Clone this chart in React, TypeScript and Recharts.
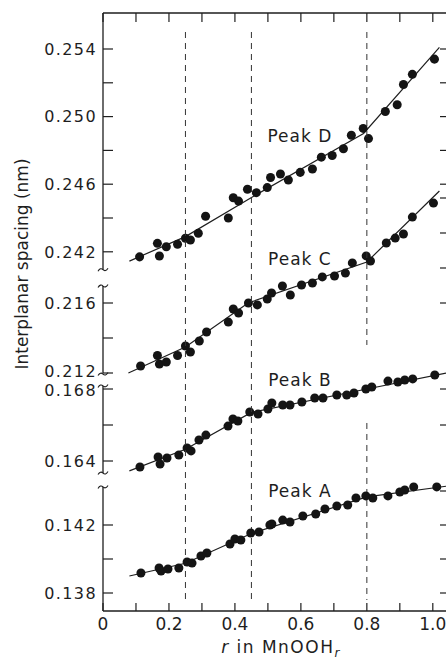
import { ComposedChart, Scatter, Line, XAxis, YAxis, ReferenceLine, ReferenceDot } from 'recharts';

// r in MnOOHr vs interplanar spacing (nm)
const PEAK_D = [
    [0.111, 0.2417], [0.165, 0.2425], [0.171, 0.24175], [0.192, 0.2423], [0.226, 0.24245],
    [0.25, 0.2428], [0.265, 0.2427], [0.289, 0.2431], [0.311, 0.2441], [0.38, 0.244],
    [0.395, 0.2452], [0.411, 0.245], [0.438, 0.2457], [0.465, 0.2455], [0.498, 0.2458],
    [0.508, 0.2464], [0.538, 0.2466], [0.562, 0.24625], [0.598, 0.2467], [0.635, 0.2469],
    [0.662, 0.2476], [0.695, 0.2477], [0.729, 0.2481], [0.753, 0.2489], [0.789, 0.2493],
    [0.805, 0.2487], [0.856, 0.2503], [0.892, 0.2507], [0.911, 0.2519], [0.938, 0.2525],
    [1.005, 0.2534],
];
const PEAK_C = [
    [0.114, 0.2124], [0.165, 0.213], [0.171, 0.21251], [0.192, 0.21263], [0.226, 0.213],
    [0.25, 0.21354], [0.265, 0.2132], [0.292, 0.21383], [0.314, 0.21434], [0.38, 0.21491],
    [0.395, 0.21566], [0.411, 0.21543], [0.441, 0.216], [0.468, 0.21589], [0.498, 0.21623],
    [0.511, 0.21657], [0.544, 0.21697], [0.568, 0.21646], [0.602, 0.21703], [0.635, 0.21714],
    [0.665, 0.21749], [0.702, 0.21754], [0.735, 0.21771], [0.756, 0.21829], [0.798, 0.21869],
    [0.811, 0.2184], [0.859, 0.21943], [0.886, 0.21971], [0.911, 0.21994], [0.938, 0.22091],
    [1.002, 0.22171],
];
const PEAK_B = [
    [0.112, 0.16367], [0.167, 0.16422], [0.173, 0.16383], [0.194, 0.16417], [0.23, 0.16433],
    [0.255, 0.16472], [0.267, 0.16456], [0.291, 0.16517], [0.312, 0.16544], [0.379, 0.16594],
    [0.394, 0.16633], [0.409, 0.16622], [0.445, 0.16672], [0.47, 0.16661], [0.5, 0.16689],
    [0.512, 0.16722], [0.545, 0.16711], [0.567, 0.16711], [0.603, 0.16728], [0.642, 0.1675],
    [0.667, 0.1675], [0.709, 0.16767], [0.739, 0.16767], [0.761, 0.16778], [0.797, 0.168],
    [0.815, 0.16811], [0.864, 0.16844], [0.894, 0.16839], [0.915, 0.1685], [0.939, 0.16856],
    [1.006, 0.16878],
];
const PEAK_A = [
    [0.115, 0.13918], [0.17, 0.13947], [0.176, 0.13929], [0.197, 0.13941], [0.23, 0.13947],
    [0.255, 0.13982], [0.27, 0.13976], [0.297, 0.14018], [0.315, 0.14035], [0.385, 0.14088],
    [0.4, 0.14118], [0.418, 0.14112], [0.448, 0.14153], [0.473, 0.14159], [0.506, 0.142],
    [0.512, 0.14206], [0.545, 0.14229], [0.567, 0.14218], [0.606, 0.14253], [0.645, 0.14265],
    [0.673, 0.14294], [0.709, 0.14312], [0.742, 0.14318], [0.767, 0.14359], [0.797, 0.14371],
    [0.818, 0.14359], [0.864, 0.14371], [0.9, 0.14394], [0.915, 0.14406], [0.942, 0.14424],
    [1.012, 0.14424],
];

// piecewise fitted lines
const FIT_D = [[0.08, 0.24145], [0.25, 0.2429], [0.44, 0.2451], [0.79, 0.249], [1.02, 0.2541]];
const FIT_C = [[0.077, 0.212], [0.25, 0.21349], [0.44, 0.216], [0.8, 0.21834], [1.02, 0.2224]];
const FIT_B = [[0.08, 0.16345], [0.25, 0.16465], [0.45, 0.1667], [0.8, 0.168], [1.04, 0.16888]];
const FIT_A = [[0.08, 0.139], [0.25, 0.13975], [0.45, 0.1415], [0.8, 0.14365], [1.04, 0.14428]];

const X_TICKS = [0, 0.1, 0.2, 0.3, 0.4, 0.5, 0.6, 0.7, 0.8, 0.9, 1.0];
const DASH_R = [0.25, 0.45, 0.8];

const D_TICKS = [0.242, 0.244, 0.246, 0.248, 0.25, 0.252, 0.254];
const D_LABELS = [0.242, 0.246, 0.25, 0.254];
const C_TICKS = [0.212, 0.214, 0.216];
const C_LABELS = [0.212, 0.216];
const B_TICKS = [0.164, 0.166, 0.168];
const B_LABELS = [0.164, 0.168];
const A_TICKS = [0.138, 0.14, 0.142];
const A_LABELS = [0.138, 0.142];

const D_RIGHT = [0.246, 0.248, 0.25, 0.252, 0.254];
const C_RIGHT = [0.216, 0.218, 0.22, 0.222];
const B_RIGHT = [0.166, 0.168];
const A_RIGHT = [0.138, 0.14, 0.142, 0.144];

const W = 447;
const H = 660;
// axes get width/height 1 (0 would not render), so plot area is x 103..446, y 13..611
const MARGIN = { top: 12, right: 0, bottom: 19, left: 102 };
const X_DOMAIN = [0, 1.04];
const INK = '#1e1e1e';
const FONT = '"DejaVu Sans", sans-serif';
const AXIS = { stroke: INK, strokeWidth: 1.3 };

const rows = (pts: number[][]) => pts.map(([r, d]) => ({ r, d }));

// labels of the two panels that meet at the break sit slightly apart, as in the figure
const nudge = (v: number) => (v === 0.212 ? -2 : v === 0.168 ? 1.5 : 0);

const leftTick = (labels: number[]) => (p: any) => (
    <g>
        <line x1={p.x} x2={p.x + 10} y1={p.y} y2={p.y} stroke={INK} strokeWidth={1.2} />
        {labels.includes(p.payload.value) && (
            <text x={p.x - 6} y={p.y + nudge(p.payload.value)} dy="0.36em" textAnchor="end"
                fontSize={16} letterSpacing={1.4} fill={INK} fontFamily={FONT}>
                {p.payload.value.toFixed(3)}
            </text>
        )}
    </g>
);

const rightTick = (p: any) => (
    <line x1={p.x - 6} x2={p.x} y1={p.y} y2={p.y} stroke={INK} strokeWidth={1.2} />
);

const topTick = (p: any) => (
    <line x1={p.x} x2={p.x} y1={p.y} y2={p.y + 9} stroke={INK} strokeWidth={1.2} />
);

const bottomTick = (p: any) => {
    const v = p.payload.value;
    const tenth = Math.round(v * 10);
    return (
        <g>
            <line x1={p.x} x2={p.x} y1={p.y} y2={p.y - 8} stroke={INK} strokeWidth={1.2} />
            {tenth % 2 === 0 && (
                <text x={p.x} y={p.y + 19} textAnchor="middle" fontSize={17} fill={INK} fontFamily={FONT}>
                    {v === 0 ? '0' : v.toFixed(1)}
                </text>
            )}
        </g>
    );
};

const breakMark = (p: any) => (
    <path d={`M${p.cx - 5},${p.cy + 1.5} q2.5,-4 5,-1.5 t5,-1.5`} fill="none" stroke={INK} strokeWidth={1.1} />
);

const peakLabel = (text: string) => (p: any) => (
    <text x={p.cx} y={p.cy} dy="0.36em" textAnchor="middle" fontSize={17} letterSpacing={1}
        fill={INK} fontFamily={FONT}>
        {text}
    </text>
);

function Panel(props: any) {
    const { points, fit, domain, ticks, labels, right, axisFrom, axisTo, bottom, children } = props;
    return (
        <div style={{ position: 'absolute', left: 0, top: 0 }}>
            <ComposedChart width={W} height={H} margin={MARGIN}>
                <XAxis dataKey="r" type="number" domain={X_DOMAIN} allowDataOverflow ticks={X_TICKS}
                    interval={0} height={30} tickSize={0} tickMargin={0} tickLine={false}
                    axisLine={bottom ? AXIS : false} tick={bottom ? bottomTick : false} />
                <XAxis xAxisId="top" orientation="top" dataKey="r" type="number" domain={X_DOMAIN}
                    allowDataOverflow ticks={X_TICKS} interval={0} height={1} tickSize={0}
                    tickMargin={0} tickLine={false} axisLine={props.top ? AXIS : false}
                    tick={props.top ? topTick : false} />
                <YAxis dataKey="d" type="number" domain={domain} allowDataOverflow width={1}
                    ticks={ticks} interval={0} tickSize={0} tickMargin={0} tickLine={false}
                    axisLine={false} tick={leftTick(labels)} />
                <YAxis yAxisId="right" orientation="right" dataKey="d" type="number" domain={domain}
                    allowDataOverflow width={1} ticks={right} interval={0} tickSize={0} tickMargin={0}
                    tickLine={false} axisLine={false} tick={rightTick} />
                <ReferenceLine segment={[{ x: 0, y: axisFrom }, { x: 0, y: axisTo }]} stroke={INK}
                    strokeWidth={1.3} ifOverflow="visible" />
                <Line data={rows(fit)} dataKey="d" type="linear" stroke={INK} strokeWidth={1.2}
                    dot={false} isAnimationActive={false} />
                <Scatter data={rows(points)} dataKey="d" fill="#141414" isAnimationActive={false} />
                {children}
            </ComposedChart>
        </div>
    );
}

export default function App() {
    return (
        <div style={{ position: 'absolute', left: 0, top: 0, width: W, height: H, background: '#fff' }}>
            <Panel points={PEAK_D} fit={FIT_D} domain={[0.220746, 0.25613]} ticks={D_TICKS}
                labels={D_LABELS} right={D_RIGHT} axisFrom={0.25613} axisTo={0.24094} top>
                <ReferenceDot x={0} y={0.24094} r={0} shape={breakMark} />
                <ReferenceDot x={0.597} y={0.24885} r={0} shape={peakLabel('Peak D')} />
            </Panel>
            <Panel points={PEAK_C} fit={FIT_C} domain={[0.1984, 0.232571]} ticks={C_TICKS}
                labels={C_LABELS} right={C_RIGHT} axisFrom={0.21697} axisTo={0.212}>
                <ReferenceDot x={0} y={0.21697} r={0} shape={breakMark} />
                <ReferenceDot x={0} y={0.21194} r={0} shape={breakMark} />
                <ReferenceDot x={0.597} y={0.21851} r={0} shape={peakLabel('Peak C')} />
            </Panel>
            <Panel points={PEAK_B} fit={FIT_B} domain={[0.155667, 0.188889]} ticks={B_TICKS}
                labels={B_LABELS} right={B_RIGHT} axisFrom={0.16817} axisTo={0.16333}>
                <ReferenceDot x={0} y={0.16817} r={0} shape={breakMark} />
                <ReferenceDot x={0} y={0.16333} r={0} shape={breakMark} />
                <ReferenceDot x={0.597} y={0.1685} r={0} shape={peakLabel('Peak B')} />
            </Panel>
            <Panel points={PEAK_A} fit={FIT_A} domain={[0.136941, 0.172118]} ticks={A_TICKS}
                labels={A_LABELS} right={A_RIGHT} axisFrom={0.14424} axisTo={0.136941} bottom>
                <ReferenceDot x={0} y={0.14424} r={0} shape={breakMark} />
                <ReferenceDot x={0.597} y={0.144} r={0} shape={peakLabel('Peak A')} />
                {DASH_R.map((r) => (
                    <ReferenceLine key={`a${r}`}
                        segment={r === 0.8
                            ? [{ x: r, y: 0.171 }, { x: r, y: 0.15259 }]
                            : [{ x: r, y: 0.171 }, { x: r, y: 0.13759 }]}
                        stroke="#333" strokeWidth={1} strokeDasharray="6 5" />
                ))}
                <ReferenceLine segment={[{ x: 0.8, y: 0.148 }, { x: 0.8, y: 0.13759 }]}
                    stroke="#333" strokeWidth={1} strokeDasharray="6 5" />
            </Panel>
            <svg width={W} height={H} style={{ position: 'absolute', left: 0, top: 0, pointerEvents: 'none' }}>
                <text transform="translate(28,264) rotate(-90)" textAnchor="middle" fontSize={17}
                    fill={INK} fontFamily={FONT}>
                    Interplanar spacing (nm)
                </text>
                <text x={281} y={653} textAnchor="middle" fontSize={17} letterSpacing={1.5} fill={INK}
                    fontFamily={FONT}>
                    <tspan fontStyle="italic">r</tspan> in MnOOH
                    <tspan fontStyle="italic" fontSize={12} dy={4}>r</tspan>
                </text>
            </svg>
        </div>
    );
}
